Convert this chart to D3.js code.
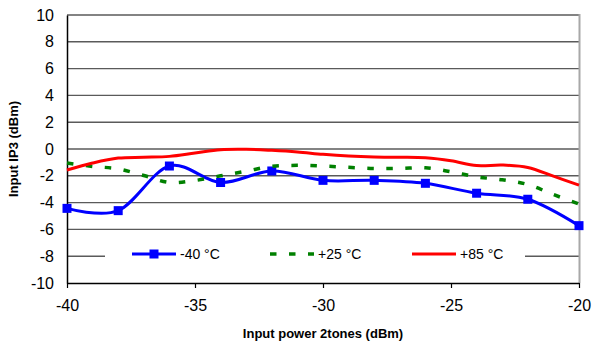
<!DOCTYPE html>
<html>
<head>
<meta charset="utf-8">
<script src="https://cdn.jsdelivr.net/npm/d3@7"></script>
<style>
  body { margin: 0; background: #fff; }
  svg { display: block; font-family: Arial, "Liberation Sans", sans-serif; }
</style>
</head>
<body>
<svg id="chart" width="592" height="345"></svg>
<script>
// input power (dBm)
const xCold = [-40, -38, -36, -34, -32, -30, -28, -26, -24, -22, -20];
const xFine = [-40, -39, -38, -37, -36, -35, -34, -33, -32, -31, -30, -29, -28, -27, -26, -25, -24, -23, -22, -21, -20];

// input IP3 (dBm)
const ip3Cold = [-4.43, -4.6, -1.27, -2.5, -1.64, -2.34, -2.34, -2.56, -3.3, -3.75, -5.72];
const ip3Room = [-1.05, -1.3, -1.48, -1.98, -2.5, -2.35, -2.0, -1.65, -1.3, -1.22, -1.27, -1.37, -1.46, -1.45, -1.4, -1.7, -2.08, -2.3, -2.65, -3.4, -4.1];
const ip3Hot = [-1.57, -1.05, -0.68, -0.62, -0.55, -0.3, -0.05, -0.02, -0.1, -0.22, -0.4, -0.53, -0.6, -0.62, -0.66, -0.88, -1.24, -1.2, -1.38, -2.03, -2.7];

const xTicks = [-40, -35, -30, -25, -20];
const yTicks = [-10, -8, -6, -4, -2, 0, 2, 4, 6, 8, 10];
const seriesNames = ['-40 °C', '+25 °C', '+85 °C'];

const svg = d3.select('#chart');
const pLeft = 67, pRight = 579, pTop = 15, pBottom = 283;

const x = d3.scaleLinear().domain([-40, -20]).range([pLeft, pRight]);
const y = d3.scaleLinear().domain([-10, 10]).range([pBottom, pTop]);

// plain hyphen, like the original
const fmt = d => String(d);

// gridlines
svg.append('g')
  .selectAll('line')
  .data(yTicks.filter(d => d > -10))
  .enter().append('line')
  .attr('x1', pLeft).attr('x2', pRight)
  .attr('y1', d => y(d)).attr('y2', d => y(d))
  .attr('stroke', '#5a5a5a').attr('stroke-width', 1.4);

// right border
svg.append('line')
  .attr('x1', pRight + 0.5).attr('x2', pRight + 0.5)
  .attr('y1', pTop - 1).attr('y2', pBottom)
  .attr('stroke', '#a8a8a8').attr('stroke-width', 2);

// y axis
const yAxis = svg.append('g')
  .attr('transform', `translate(${pLeft},0)`)
  .call(d3.axisLeft(y).tickValues(yTicks).tickSize(0).tickPadding(13).tickFormat(fmt));
yAxis.select('.domain').attr('stroke', '#000').attr('stroke-width', 1.5);
yAxis.selectAll('text').attr('font-size', 16).attr('fill', '#000')
  .attr('font-family', 'Arial, "Liberation Sans", sans-serif');

// x axis
const xAxis = svg.append('g')
  .attr('transform', `translate(0,${pBottom})`)
  .call(d3.axisBottom(x).tickValues(xTicks).tickSizeInner(5).tickSizeOuter(0).tickPadding(12).tickFormat(fmt));
xAxis.select('.domain').attr('stroke', '#000').attr('stroke-width', 1.5);
xAxis.selectAll('.tick line').attr('stroke', '#000').attr('stroke-width', 1.2);
xAxis.selectAll('text').attr('font-size', 16).attr('fill', '#000')
  .attr('font-family', 'Arial, "Liberation Sans", sans-serif');

// axis titles
svg.append('text')
  .attr('x', (pLeft + pRight) / 2).attr('y', 338)
  .attr('text-anchor', 'middle')
  .attr('font-size', 13).attr('font-weight', 'bold')
  .text('Input power 2tones (dBm)');

svg.append('text')
  .attr('transform', `translate(18,${(pTop + pBottom) / 2}) rotate(-90)`)
  .attr('text-anchor', 'middle')
  .attr('font-size', 13).attr('font-weight', 'bold')
  .text('Input IP3 (dBm)');

const line = d3.line()
  .x(d => x(d[0]))
  .y(d => y(d[1]))
  .curve(d3.curveCatmullRom.alpha(0));

const cold = d3.zip(xCold, ip3Cold);
const room = d3.zip(xFine, ip3Room);
const hot = d3.zip(xFine, ip3Hot);

const plot = svg.append('g');

plot.append('path').datum(cold).attr('d', line)
  .attr('fill', 'none').attr('stroke', '#0000ff').attr('stroke-width', 3);
plot.selectAll('rect.mk').data(cold).enter().append('rect')
  .attr('class', 'mk')
  .attr('x', d => x(d[0]) - 4.5).attr('y', d => y(d[1]) - 4.5)
  .attr('width', 9).attr('height', 9).attr('fill', '#0000ff');

plot.append('path').datum(room).attr('d', line)
  .attr('fill', 'none').attr('stroke', '#008000').attr('stroke-width', 3.5)
  .attr('stroke-dasharray', '6.5,12.5');

plot.append('path').datum(hot).attr('d', line)
  .attr('fill', 'none').attr('stroke', '#ff0000').attr('stroke-width', 3);

// legend
const legend = svg.append('g');
legend.append('rect')
  .attr('x', 105).attr('y', 245).attr('width', 420).attr('height', 20)
  .attr('fill', '#fff');

const ly = 254;
const items = [
  { x0: 132, color: '#0000ff', dash: null, marker: true },
  { x0: 270, color: '#008000', dash: '6.5,12.5', marker: false },
  { x0: 412, color: '#ff0000', dash: null, marker: false }
];
items.forEach((it, i) => {
  legend.append('line')
    .attr('x1', it.x0).attr('x2', it.x0 + 44)
    .attr('y1', ly).attr('y2', ly)
    .attr('stroke', it.color).attr('stroke-width', it.dash ? 3.5 : 3)
    .attr('stroke-dasharray', it.dash);
  if (it.marker) {
    legend.append('rect')
      .attr('x', it.x0 + 22 - 4.5).attr('y', ly - 4.5)
      .attr('width', 9).attr('height', 9).attr('fill', it.color);
  }
  legend.append('text')
    .attr('x', it.x0 + 48).attr('y', ly + 5)
    .attr('font-size', 14)
    .text(seriesNames[i]);
});
</script>
</body>
</html>
